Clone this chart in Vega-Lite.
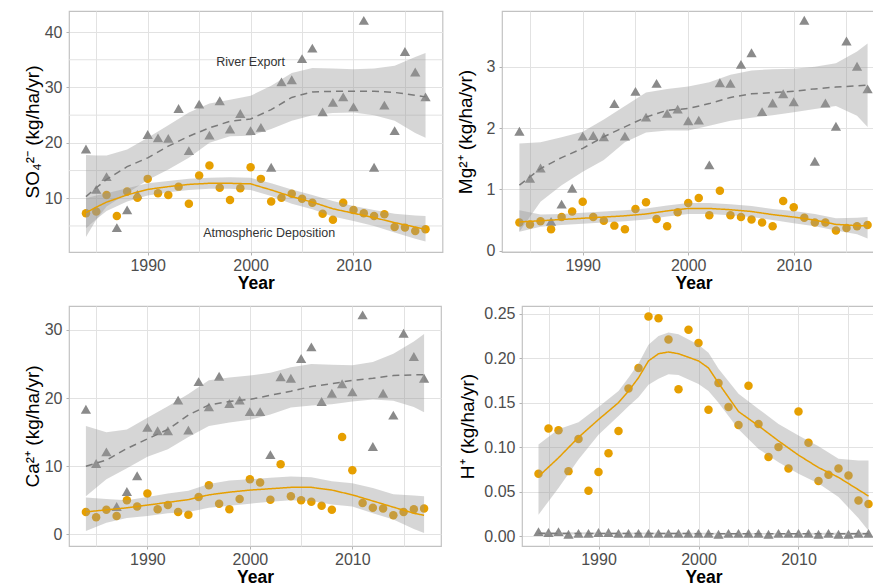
{
  "$schema": "https://vega.github.io/schema/vega-lite/v6.json",
  "autosize": {"type": "pad"},
  "padding": {"left": 22, "top": 10, "right": 0, "bottom": 0},
  "background": "white",
  "datasets": {
    "pts": [
      {"p":"SO4","year":1984,"river":18.9,"dep":7.3},{"p":"SO4","year":1985,"river":11.6,"dep":7.6},{"p":"SO4","year":1986,"river":13.9,"dep":10.6},{"p":"SO4","year":1987,"river":4.7,"dep":6.8},{"p":"SO4","year":1988,"river":7.9,"dep":11.2},{"p":"SO4","year":1989,"river":10.7,"dep":10.1},{"p":"SO4","year":1990,"river":21.5,"dep":13.5},{"p":"SO4","year":1991,"river":20.9,"dep":10.9},{"p":"SO4","year":1992,"river":20.8,"dep":10.6},{"p":"SO4","year":1993,"river":26.2,"dep":12.1},{"p":"SO4","year":1994,"river":18.6,"dep":9.0},{"p":"SO4","year":1995,"river":27.0,"dep":14.1},{"p":"SO4","year":1996,"river":21.4,"dep":15.9},{"p":"SO4","year":1997,"river":27.6,"dep":11.9},{"p":"SO4","year":1998,"river":22.5,"dep":9.7},{"p":"SO4","year":1999,"river":25.3,"dep":11.8},{"p":"SO4","year":2000,"river":22.2,"dep":15.6},{"p":"SO4","year":2001,"river":22.8,"dep":13.5},{"p":"SO4","year":2002,"river":15.6,"dep":9.4},{"p":"SO4","year":2003,"river":31.0,"dep":10.1},{"p":"SO4","year":2004,"river":31.4,"dep":10.8},{"p":"SO4","year":2005,"river":35.2,"dep":9.9},{"p":"SO4","year":2006,"river":37.1,"dep":9.2},{"p":"SO4","year":2007,"river":25.6,"dep":7.2},{"p":"SO4","year":2008,"river":27.3,"dep":6.1},{"p":"SO4","year":2009,"river":28.3,"dep":9.2},{"p":"SO4","year":2010,"river":26.5,"dep":7.9},{"p":"SO4","year":2011,"river":42.1,"dep":7.3},{"p":"SO4","year":2012,"river":15.6,"dep":6.8},{"p":"SO4","year":2013,"river":26.8,"dep":7.1},{"p":"SO4","year":2014,"river":22.2,"dep":4.8},{"p":"SO4","year":2015,"river":36.5,"dep":4.7},{"p":"SO4","year":2016,"river":32.8,"dep":4.1},{"p":"SO4","year":2017,"river":28.3,"dep":4.4},
      {"p":"Mg","year":1984,"river":1.95,"dep":0.46},{"p":"Mg","year":1985,"river":1.18,"dep":0.43},{"p":"Mg","year":1986,"river":1.35,"dep":0.48},{"p":"Mg","year":1987,"river":0.48,"dep":0.35},{"p":"Mg","year":1988,"river":0.76,"dep":0.55},{"p":"Mg","year":1989,"river":1.02,"dep":0.64},{"p":"Mg","year":1990,"river":1.87,"dep":0.80},{"p":"Mg","year":1991,"river":1.88,"dep":0.55},{"p":"Mg","year":1992,"river":1.86,"dep":0.49},{"p":"Mg","year":1993,"river":2.40,"dep":0.41},{"p":"Mg","year":1994,"river":1.87,"dep":0.35},{"p":"Mg","year":1995,"river":2.60,"dep":0.68},{"p":"Mg","year":1996,"river":2.18,"dep":0.79},{"p":"Mg","year":1997,"river":2.73,"dep":0.52},{"p":"Mg","year":1998,"river":2.24,"dep":0.40},{"p":"Mg","year":1999,"river":2.31,"dep":0.63},{"p":"Mg","year":2000,"river":2.12,"dep":0.78},{"p":"Mg","year":2001,"river":2.13,"dep":0.86},{"p":"Mg","year":2002,"river":1.40,"dep":0.58},{"p":"Mg","year":2003,"river":2.74,"dep":0.98},{"p":"Mg","year":2004,"river":2.73,"dep":0.58},{"p":"Mg","year":2005,"river":3.04,"dep":0.55},{"p":"Mg","year":2006,"river":3.23,"dep":0.51},{"p":"Mg","year":2007,"river":2.27,"dep":0.46},{"p":"Mg","year":2008,"river":2.41,"dep":0.40},{"p":"Mg","year":2009,"river":2.56,"dep":0.81},{"p":"Mg","year":2010,"river":2.43,"dep":0.71},{"p":"Mg","year":2011,"river":3.76,"dep":0.54},{"p":"Mg","year":2012,"river":1.46,"dep":0.46},{"p":"Mg","year":2013,"river":2.41,"dep":0.46},{"p":"Mg","year":2014,"river":2.03,"dep":0.33},{"p":"Mg","year":2015,"river":3.42,"dep":0.37},{"p":"Mg","year":2016,"river":3.01,"dep":0.40},{"p":"Mg","year":2017,"river":2.64,"dep":0.42},
      {"p":"Ca","year":1984,"river":18.35,"dep":3.3},{"p":"Ca","year":1985,"river":10.4,"dep":2.5},{"p":"Ca","year":1986,"river":12.1,"dep":3.6},{"p":"Ca","year":1987,"river":4.1,"dep":2.7},{"p":"Ca","year":1988,"river":6.3,"dep":5.0},{"p":"Ca","year":1989,"river":8.6,"dep":4.1},{"p":"Ca","year":1990,"river":15.7,"dep":6.0},{"p":"Ca","year":1991,"river":15.2,"dep":3.7},{"p":"Ca","year":1992,"river":15.2,"dep":4.3},{"p":"Ca","year":1993,"river":19.7,"dep":3.3},{"p":"Ca","year":1994,"river":15.3,"dep":2.9},{"p":"Ca","year":1995,"river":22.4,"dep":5.5},{"p":"Ca","year":1996,"river":18.7,"dep":7.2},{"p":"Ca","year":1997,"river":23.2,"dep":4.5},{"p":"Ca","year":1998,"river":19.2,"dep":3.7},{"p":"Ca","year":1999,"river":19.7,"dep":5.2},{"p":"Ca","year":2000,"river":18.0,"dep":8.1},{"p":"Ca","year":2001,"river":18.0,"dep":7.6},{"p":"Ca","year":2002,"river":11.7,"dep":5.1},{"p":"Ca","year":2003,"river":23.1,"dep":10.3},{"p":"Ca","year":2004,"river":22.9,"dep":5.6},{"p":"Ca","year":2005,"river":25.8,"dep":5.0},{"p":"Ca","year":2006,"river":27.5,"dep":4.8},{"p":"Ca","year":2007,"river":19.5,"dep":4.2},{"p":"Ca","year":2008,"river":20.7,"dep":3.6},{"p":"Ca","year":2009,"river":22.1,"dep":14.3},{"p":"Ca","year":2010,"river":20.9,"dep":9.4},{"p":"Ca","year":2011,"river":32.2,"dep":4.6},{"p":"Ca","year":2012,"river":12.9,"dep":3.9},{"p":"Ca","year":2013,"river":20.7,"dep":3.8},{"p":"Ca","year":2014,"river":17.5,"dep":2.8},{"p":"Ca","year":2015,"river":29.5,"dep":3.3},{"p":"Ca","year":2016,"river":26.1,"dep":3.7},{"p":"Ca","year":2017,"river":22.9,"dep":3.8},
      {"p":"H","year":1984,"river":0.005,"dep":0.070},{"p":"H","year":1985,"river":0.004,"dep":0.121},{"p":"H","year":1986,"river":0.005,"dep":0.119},{"p":"H","year":1987,"river":0.002,"dep":0.073},{"p":"H","year":1988,"river":0.003,"dep":0.109},{"p":"H","year":1989,"river":0.003,"dep":0.051},{"p":"H","year":1990,"river":0.004,"dep":0.072},{"p":"H","year":1991,"river":0.004,"dep":0.093},{"p":"H","year":1992,"river":0.003,"dep":0.118},{"p":"H","year":1993,"river":0.003,"dep":0.166},{"p":"H","year":1994,"river":0.003,"dep":0.189},{"p":"H","year":1995,"river":0.003,"dep":0.247},{"p":"H","year":1996,"river":0.003,"dep":0.245},{"p":"H","year":1997,"river":0.003,"dep":0.221},{"p":"H","year":1998,"river":0.003,"dep":0.165},{"p":"H","year":1999,"river":0.003,"dep":0.232},{"p":"H","year":2000,"river":0.003,"dep":0.217},{"p":"H","year":2001,"river":0.003,"dep":0.142},{"p":"H","year":2002,"river":0.002,"dep":0.172},{"p":"H","year":2003,"river":0.003,"dep":0.145},{"p":"H","year":2004,"river":0.003,"dep":0.125},{"p":"H","year":2005,"river":0.003,"dep":0.169},{"p":"H","year":2006,"river":0.003,"dep":0.126},{"p":"H","year":2007,"river":0.002,"dep":0.089},{"p":"H","year":2008,"river":0.003,"dep":0.100},{"p":"H","year":2009,"river":0.003,"dep":0.076},{"p":"H","year":2010,"river":0.003,"dep":0.140},{"p":"H","year":2011,"river":0.003,"dep":0.105},{"p":"H","year":2012,"river":0.002,"dep":0.062},{"p":"H","year":2013,"river":0.003,"dep":0.069},{"p":"H","year":2014,"river":0.002,"dep":0.076},{"p":"H","year":2015,"river":0.002,"dep":0.068},{"p":"H","year":2016,"river":0.003,"dep":0.040},{"p":"H","year":2017,"river":0.003,"dep":0.036}
    ],
    "fits": [
      {"p":"SO4","s":"river","year":1984,"fit":10.3,"lo":3.0,"hi":17.8},{"p":"SO4","s":"river","year":1985,"fit":11.9,"lo":6.1,"hi":17.7},{"p":"SO4","s":"river","year":1986,"fit":13.4,"lo":8.5,"hi":17.7},{"p":"SO4","s":"river","year":1988,"fit":15.7,"lo":10.9,"hi":18.8},{"p":"SO4","s":"river","year":1990,"fit":17.3,"lo":13.3,"hi":20.9},{"p":"SO4","s":"river","year":1992,"fit":19.4,"lo":15.2,"hi":23.2},{"p":"SO4","s":"river","year":1994,"fit":21.2,"lo":17.3,"hi":25.5},{"p":"SO4","s":"river","year":1996,"fit":22.7,"lo":20.0,"hi":27.1},{"p":"SO4","s":"river","year":1998,"fit":23.9,"lo":21.2,"hi":27.8},{"p":"SO4","s":"river","year":2000,"fit":24.3,"lo":21.3,"hi":28.5},{"p":"SO4","s":"river","year":2002,"fit":26.0,"lo":22.5,"hi":30.3},{"p":"SO4","s":"river","year":2004,"fit":28.2,"lo":24.0,"hi":32.6},{"p":"SO4","s":"river","year":2006,"fit":29.2,"lo":25.0,"hi":33.5},{"p":"SO4","s":"river","year":2008,"fit":29.3,"lo":25.4,"hi":33.4},{"p":"SO4","s":"river","year":2010,"fit":29.3,"lo":25.5,"hi":33.3},{"p":"SO4","s":"river","year":2012,"fit":29.3,"lo":25.0,"hi":33.4},{"p":"SO4","s":"river","year":2014,"fit":29.1,"lo":24.0,"hi":33.9},{"p":"SO4","s":"river","year":2016,"fit":28.6,"lo":21.8,"hi":35.5},{"p":"SO4","s":"river","year":2017,"fit":28.3,"lo":20.9,"hi":36.2},
      {"p":"SO4","s":"dep","year":1984,"fit":7.4,"lo":4.6,"hi":10.0},{"p":"SO4","s":"dep","year":1985,"fit":8.4,"lo":6.2,"hi":10.5},{"p":"SO4","s":"dep","year":1986,"fit":9.3,"lo":7.7,"hi":10.9},{"p":"SO4","s":"dep","year":1988,"fit":10.6,"lo":9.4,"hi":11.8},{"p":"SO4","s":"dep","year":1990,"fit":11.6,"lo":10.5,"hi":12.7},{"p":"SO4","s":"dep","year":1992,"fit":12.1,"lo":11.1,"hi":13.1},{"p":"SO4","s":"dep","year":1994,"fit":12.5,"lo":11.5,"hi":13.5},{"p":"SO4","s":"dep","year":1996,"fit":12.7,"lo":11.7,"hi":13.7},{"p":"SO4","s":"dep","year":1998,"fit":12.7,"lo":11.7,"hi":13.8},{"p":"SO4","s":"dep","year":2000,"fit":12.6,"lo":11.5,"hi":13.7},{"p":"SO4","s":"dep","year":2002,"fit":11.5,"lo":10.4,"hi":12.7},{"p":"SO4","s":"dep","year":2004,"fit":10.3,"lo":9.0,"hi":11.6},{"p":"SO4","s":"dep","year":2006,"fit":9.3,"lo":8.0,"hi":10.6},{"p":"SO4","s":"dep","year":2008,"fit":8.1,"lo":6.7,"hi":9.5},{"p":"SO4","s":"dep","year":2010,"fit":7.3,"lo":5.9,"hi":8.6},{"p":"SO4","s":"dep","year":2012,"fit":6.5,"lo":5.0,"hi":7.9},{"p":"SO4","s":"dep","year":2014,"fit":5.6,"lo":3.8,"hi":7.2},{"p":"SO4","s":"dep","year":2016,"fit":4.8,"lo":2.7,"hi":6.9},{"p":"SO4","s":"dep","year":2017,"fit":4.4,"lo":2.2,"hi":6.8},
      {"p":"Mg","s":"river","year":1984,"fit":1.07,"lo":0.31,"hi":1.75},{"p":"Mg","s":"river","year":1986,"fit":1.34,"lo":0.80,"hi":1.77},{"p":"Mg","s":"river","year":1988,"fit":1.52,"lo":1.07,"hi":1.85},{"p":"Mg","s":"river","year":1990,"fit":1.67,"lo":1.29,"hi":1.94},{"p":"Mg","s":"river","year":1992,"fit":1.86,"lo":1.48,"hi":2.14},{"p":"Mg","s":"river","year":1994,"fit":2.02,"lo":1.77,"hi":2.36},{"p":"Mg","s":"river","year":1996,"fit":2.18,"lo":1.93,"hi":2.58},{"p":"Mg","s":"river","year":1998,"fit":2.29,"lo":1.96,"hi":2.64},{"p":"Mg","s":"river","year":2000,"fit":2.32,"lo":1.96,"hi":2.68},{"p":"Mg","s":"river","year":2002,"fit":2.40,"lo":2.04,"hi":2.75},{"p":"Mg","s":"river","year":2004,"fit":2.50,"lo":2.12,"hi":2.87},{"p":"Mg","s":"river","year":2006,"fit":2.56,"lo":2.17,"hi":2.94},{"p":"Mg","s":"river","year":2008,"fit":2.58,"lo":2.21,"hi":2.96},{"p":"Mg","s":"river","year":2010,"fit":2.60,"lo":2.26,"hi":2.97},{"p":"Mg","s":"river","year":2012,"fit":2.64,"lo":2.31,"hi":3.00},{"p":"Mg","s":"river","year":2014,"fit":2.67,"lo":2.36,"hi":3.06},{"p":"Mg","s":"river","year":2016,"fit":2.69,"lo":2.20,"hi":3.25},{"p":"Mg","s":"river","year":2017,"fit":2.70,"lo":2.02,"hi":3.38},
      {"p":"Mg","s":"dep","year":1984,"fit":0.47,"lo":0.31,"hi":0.66},{"p":"Mg","s":"dep","year":1986,"fit":0.49,"lo":0.39,"hi":0.59},{"p":"Mg","s":"dep","year":1988,"fit":0.51,"lo":0.42,"hi":0.60},{"p":"Mg","s":"dep","year":1990,"fit":0.53,"lo":0.44,"hi":0.62},{"p":"Mg","s":"dep","year":1992,"fit":0.55,"lo":0.46,"hi":0.64},{"p":"Mg","s":"dep","year":1994,"fit":0.57,"lo":0.48,"hi":0.66},{"p":"Mg","s":"dep","year":1996,"fit":0.60,"lo":0.51,"hi":0.69},{"p":"Mg","s":"dep","year":1998,"fit":0.65,"lo":0.56,"hi":0.74},{"p":"Mg","s":"dep","year":2000,"fit":0.69,"lo":0.60,"hi":0.78},{"p":"Mg","s":"dep","year":2002,"fit":0.69,"lo":0.60,"hi":0.78},{"p":"Mg","s":"dep","year":2004,"fit":0.67,"lo":0.58,"hi":0.76},{"p":"Mg","s":"dep","year":2006,"fit":0.64,"lo":0.55,"hi":0.73},{"p":"Mg","s":"dep","year":2008,"fit":0.59,"lo":0.50,"hi":0.68},{"p":"Mg","s":"dep","year":2010,"fit":0.55,"lo":0.45,"hi":0.65},{"p":"Mg","s":"dep","year":2012,"fit":0.50,"lo":0.40,"hi":0.60},{"p":"Mg","s":"dep","year":2014,"fit":0.43,"lo":0.33,"hi":0.53},{"p":"Mg","s":"dep","year":2016,"fit":0.41,"lo":0.27,"hi":0.54},{"p":"Mg","s":"dep","year":2017,"fit":0.41,"lo":0.20,"hi":0.55},
      {"p":"Ca","s":"river","year":1984,"fit":10.0,"lo":5.6,"hi":15.9},{"p":"Ca","s":"river","year":1986,"fit":10.9,"lo":8.1,"hi":15.0},{"p":"Ca","s":"river","year":1988,"fit":12.6,"lo":9.7,"hi":15.4},{"p":"Ca","s":"river","year":1990,"fit":14.0,"lo":11.4,"hi":17.1},{"p":"Ca","s":"river","year":1992,"fit":15.4,"lo":12.5,"hi":18.8},{"p":"Ca","s":"river","year":1994,"fit":17.5,"lo":14.3,"hi":20.6},{"p":"Ca","s":"river","year":1996,"fit":19.0,"lo":15.9,"hi":22.6},{"p":"Ca","s":"river","year":1998,"fit":19.5,"lo":16.4,"hi":23.0},{"p":"Ca","s":"river","year":2000,"fit":19.8,"lo":16.8,"hi":23.3},{"p":"Ca","s":"river","year":2002,"fit":20.4,"lo":17.6,"hi":23.7},{"p":"Ca","s":"river","year":2004,"fit":21.0,"lo":18.6,"hi":24.5},{"p":"Ca","s":"river","year":2006,"fit":21.7,"lo":18.9,"hi":25.0},{"p":"Ca","s":"river","year":2008,"fit":22.1,"lo":19.1,"hi":24.9},{"p":"Ca","s":"river","year":2010,"fit":22.6,"lo":19.5,"hi":24.8},{"p":"Ca","s":"river","year":2012,"fit":22.9,"lo":19.8,"hi":25.3},{"p":"Ca","s":"river","year":2014,"fit":23.3,"lo":19.6,"hi":26.5},{"p":"Ca","s":"river","year":2016,"fit":23.4,"lo":18.7,"hi":28.3},{"p":"Ca","s":"river","year":2017,"fit":23.4,"lo":17.9,"hi":29.4},
      {"p":"Ca","s":"dep","year":1984,"fit":3.3,"lo":0.5,"hi":5.4},{"p":"Ca","s":"dep","year":1986,"fit":3.6,"lo":1.7,"hi":5.2},{"p":"Ca","s":"dep","year":1988,"fit":3.9,"lo":2.4,"hi":5.0},{"p":"Ca","s":"dep","year":1990,"fit":4.3,"lo":2.7,"hi":5.5},{"p":"Ca","s":"dep","year":1992,"fit":4.7,"lo":3.1,"hi":6.0},{"p":"Ca","s":"dep","year":1994,"fit":5.1,"lo":3.3,"hi":6.4},{"p":"Ca","s":"dep","year":1996,"fit":5.8,"lo":3.9,"hi":7.4},{"p":"Ca","s":"dep","year":1998,"fit":6.2,"lo":4.2,"hi":7.9},{"p":"Ca","s":"dep","year":2000,"fit":6.5,"lo":4.5,"hi":8.1},{"p":"Ca","s":"dep","year":2002,"fit":6.7,"lo":4.8,"hi":8.3},{"p":"Ca","s":"dep","year":2004,"fit":6.9,"lo":5.0,"hi":8.5},{"p":"Ca","s":"dep","year":2006,"fit":6.9,"lo":4.9,"hi":8.4},{"p":"Ca","s":"dep","year":2008,"fit":6.5,"lo":4.4,"hi":7.8},{"p":"Ca","s":"dep","year":2010,"fit":5.8,"lo":4.1,"hi":7.5},{"p":"Ca","s":"dep","year":2012,"fit":4.9,"lo":3.1,"hi":6.8},{"p":"Ca","s":"dep","year":2014,"fit":4.0,"lo":2.2,"hi":5.9},{"p":"Ca","s":"dep","year":2016,"fit":3.1,"lo":0.8,"hi":5.7},{"p":"Ca","s":"dep","year":2017,"fit":2.8,"lo":0.2,"hi":5.6},
      {"p":"H","s":"river","year":1984,"fit":0.0030,"lo":0.0015,"hi":0.0045},{"p":"H","s":"river","year":1990,"fit":0.0029,"lo":0.0019,"hi":0.0039},{"p":"H","s":"river","year":2000,"fit":0.0027,"lo":0.0018,"hi":0.0036},{"p":"H","s":"river","year":2010,"fit":0.0026,"lo":0.0017,"hi":0.0035},{"p":"H","s":"river","year":2017,"fit":0.0025,"lo":0.0010,"hi":0.0040},
      {"p":"H","s":"dep","year":1984,"fit":0.067,"lo":0.024,"hi":0.103},{"p":"H","s":"dep","year":1986,"fit":0.088,"lo":0.054,"hi":0.120},{"p":"H","s":"dep","year":1988,"fit":0.111,"lo":0.086,"hi":0.128},{"p":"H","s":"dep","year":1990,"fit":0.131,"lo":0.114,"hi":0.145},{"p":"H","s":"dep","year":1992,"fit":0.150,"lo":0.135,"hi":0.163},{"p":"H","s":"dep","year":1993,"fit":0.163,"lo":0.146,"hi":0.178},{"p":"H","s":"dep","year":1994,"fit":0.178,"lo":0.156,"hi":0.194},{"p":"H","s":"dep","year":1995,"fit":0.197,"lo":0.170,"hi":0.215},{"p":"H","s":"dep","year":1996,"fit":0.205,"lo":0.177,"hi":0.225},{"p":"H","s":"dep","year":1997,"fit":0.207,"lo":0.182,"hi":0.229},{"p":"H","s":"dep","year":1998,"fit":0.205,"lo":0.181,"hi":0.227},{"p":"H","s":"dep","year":2000,"fit":0.197,"lo":0.171,"hi":0.215},{"p":"H","s":"dep","year":2001,"fit":0.189,"lo":0.163,"hi":0.206},{"p":"H","s":"dep","year":2002,"fit":0.172,"lo":0.150,"hi":0.188},{"p":"H","s":"dep","year":2004,"fit":0.140,"lo":0.120,"hi":0.160},{"p":"H","s":"dep","year":2006,"fit":0.124,"lo":0.098,"hi":0.143},{"p":"H","s":"dep","year":2008,"fit":0.107,"lo":0.083,"hi":0.126},{"p":"H","s":"dep","year":2010,"fit":0.091,"lo":0.070,"hi":0.113},{"p":"H","s":"dep","year":2012,"fit":0.077,"lo":0.059,"hi":0.101},{"p":"H","s":"dep","year":2014,"fit":0.066,"lo":0.044,"hi":0.087},{"p":"H","s":"dep","year":2016,"fit":0.052,"lo":0.020,"hi":0.085},{"p":"H","s":"dep","year":2017,"fit":0.045,"lo":0.006,"hi":0.085}
    ],
    "notes": [
      {"p":"SO4","year":2000,"v":34.6,"txt":"River Export"},
      {"p":"SO4","year":2001.8,"v":3.8,"txt":"Atmospheric Deposition"}
    ],
    "minor": [
      {"p":"SO4","v":5},{"p":"SO4","v":15},{"p":"SO4","v":25},{"p":"SO4","v":35}
    ]
  },
  "spacing": 12,
  "bounds": "full",
  "vconcat": [
    {
      "spacing": 59,
      "bounds": "flush",
      "hconcat": [
        {
          "width": 373.5,
          "height": 241,
          "layer": [
            {"data": {"name": "minor"}, "mark": {"type": "rule", "color": "#e2e2e2", "strokeWidth": 1},
             "encoding": {"y": {"field": "v", "type": "quantitative", "scale": {"domain": [0.3, 43.8], "nice": false, "zero": false}, "axis": {"title": "SO₄²⁻ (kg/ha/yr)", "values": [10, 20, 30, 40], "format": "d"}}}},
            {"data": {"name": "pts"}, "transform": [{"filter": "datum.p === 'SO4'"}], "mark": {"type": "point", "shape": "triangle-up", "filled": true, "size": 105, "color": "#8a8a8a", "opacity": 1},
             "encoding": {"x": {"field": "year", "type": "quantitative", "scale": {"domain": [1982.35, 2018.65], "nice": false, "zero": false}, "axis": {"title": "Year", "values": [1985, 1990, 1995, 2000, 2005, 2010, 2015], "format": "d", "labelExpr": "datum.value % 10 === 0 ? datum.label : ''", "tickOpacity": {"condition": {"test": "datum.value % 10 === 0", "value": 1}, "value": 0}}},
               "y": {"field": "river", "type": "quantitative", "scale": {"domain": [0.3, 43.8], "nice": false, "zero": false}, "axis": {"title": "SO₄²⁻ (kg/ha/yr)", "values": [10, 20, 30, 40], "format": "d"}}}},
            {"data": {"name": "pts"}, "transform": [{"filter": "datum.p === 'SO4'"}], "mark": {"type": "circle", "size": 72, "color": "#E69F00", "opacity": 1},
             "encoding": {"x": {"field": "year", "type": "quantitative", "scale": {"domain": [1982.35, 2018.65], "nice": false, "zero": false}},
               "y": {"field": "dep", "type": "quantitative", "scale": {"domain": [0.3, 43.8], "nice": false, "zero": false}}}},
            {"data": {"name": "fits"}, "transform": [{"filter": "datum.p === 'SO4'"}], "mark": {"type": "area", "color": "#999999", "opacity": 0.4},
             "encoding": {"x": {"field": "year", "type": "quantitative", "scale": {"domain": [1982.35, 2018.65], "nice": false, "zero": false}},
               "y": {"field": "lo", "type": "quantitative", "stack": null, "scale": {"domain": [0.3, 43.8], "nice": false, "zero": false}}, "y2": {"field": "hi"}, "detail": {"field": "s"}}},
            {"data": {"name": "fits"}, "transform": [{"filter": "datum.p === 'SO4'"}], "mark": {"type": "line", "strokeWidth": 1.5},
             "encoding": {"x": {"field": "year", "type": "quantitative", "scale": {"domain": [1982.35, 2018.65], "nice": false, "zero": false}},
               "y": {"field": "fit", "type": "quantitative", "scale": {"domain": [0.3, 43.8], "nice": false, "zero": false}},
               "color": {"field": "s", "type": "nominal", "scale": {"domain": ["river", "dep"], "range": ["#7a7a7a", "#E69F00"]}, "legend": null},
               "strokeDash": {"field": "s", "type": "nominal", "scale": {"domain": ["river", "dep"], "range": [[7, 5], [1, 0]]}, "legend": null}}},
            {"data": {"name": "notes"}, "mark": {"type": "text", "font": "Liberation Sans", "fontSize": 12.5, "color": "#333333"},
             "encoding": {"x": {"field": "year", "type": "quantitative", "scale": {"domain": [1982.35, 2018.65], "nice": false, "zero": false}},
               "y": {"field": "v", "type": "quantitative", "scale": {"domain": [0.3, 43.8], "nice": false, "zero": false}}, "text": {"field": "txt", "type": "nominal"}}}
          ]
        },
        {
          "width": 383,
          "height": 241,
          "encoding": {"x": {"field": "year", "type": "quantitative", "scale": {"domain": [1982.35, 2018.65], "nice": false, "zero": false}, "axis": {"title": "Year", "values": [1985, 1990, 1995, 2000, 2005, 2010, 2015], "format": "d", "labelExpr": "datum.value % 10 === 0 ? datum.label : ''", "tickOpacity": {"condition": {"test": "datum.value % 10 === 0", "value": 1}, "value": 0}}}},
          "layer": [
            {"data": {"name": "pts"}, "transform": [{"filter": "datum.p === 'Mg'"}], "mark": {"type": "point", "shape": "triangle-up", "filled": true, "size": 105, "color": "#8a8a8a", "opacity": 1},
             "encoding": {"y": {"field": "river", "type": "quantitative", "scale": {"domain": [-0.02, 3.91], "nice": false, "zero": false}, "axis": {"title": "Mg²⁺ (kg/ha/yr)", "titlePadding": 11, "values": [0, 0.5, 1, 1.5, 2, 2.5, 3, 3.5], "format": ".0f", "labelExpr": "datum.value % 1 === 0 ? datum.label : ''", "tickOpacity": {"condition": {"test": "datum.value % 1 === 0", "value": 1}, "value": 0}}}}},
            {"data": {"name": "pts"}, "transform": [{"filter": "datum.p === 'Mg'"}], "mark": {"type": "circle", "size": 72, "color": "#E69F00", "opacity": 1},
             "encoding": {"y": {"field": "dep", "type": "quantitative", "scale": {"domain": [-0.02, 3.91], "nice": false, "zero": false}}}},
            {"data": {"name": "fits"}, "transform": [{"filter": "datum.p === 'Mg'"}], "mark": {"type": "area", "color": "#999999", "opacity": 0.4},
             "encoding": {"y": {"field": "lo", "type": "quantitative", "stack": null, "scale": {"domain": [-0.02, 3.91], "nice": false, "zero": false}}, "y2": {"field": "hi"}, "detail": {"field": "s"}}},
            {"data": {"name": "fits"}, "transform": [{"filter": "datum.p === 'Mg'"}], "mark": {"type": "line", "strokeWidth": 1.5},
             "encoding": {"y": {"field": "fit", "type": "quantitative", "scale": {"domain": [-0.02, 3.91], "nice": false, "zero": false}},
               "color": {"field": "s", "type": "nominal", "scale": {"domain": ["river", "dep"], "range": ["#7a7a7a", "#E69F00"]}, "legend": null},
               "strokeDash": {"field": "s", "type": "nominal", "scale": {"domain": ["river", "dep"], "range": [[7, 5], [1, 0]]}, "legend": null}}}
          ]
        }
      ]
    },
    {
      "spacing": 81,
      "bounds": "flush",
      "hconcat": [
        {
          "width": 372,
          "height": 240,
          "encoding": {"x": {"field": "year", "type": "quantitative", "scale": {"domain": [1982.35, 2018.65], "nice": false, "zero": false}, "axis": {"title": "Year", "values": [1985, 1990, 1995, 2000, 2005, 2010, 2015], "format": "d", "labelExpr": "datum.value % 10 === 0 ? datum.label : ''", "tickOpacity": {"condition": {"test": "datum.value % 10 === 0", "value": 1}, "value": 0}}}},
          "layer": [
            {"data": {"name": "pts"}, "transform": [{"filter": "datum.p === 'Ca'"}], "mark": {"type": "point", "shape": "triangle-up", "filled": true, "size": 105, "color": "#8a8a8a", "opacity": 1},
             "encoding": {"y": {"field": "river", "type": "quantitative", "scale": {"domain": [-1.7, 33.5], "nice": false, "zero": false}, "axis": {"title": "Ca²⁺ (kg/ha/yr)", "values": [0, 5, 10, 15, 20, 25, 30], "format": "d", "labelExpr": "datum.value % 10 === 0 ? datum.label : ''", "tickOpacity": {"condition": {"test": "datum.value % 10 === 0", "value": 1}, "value": 0}}}}},
            {"data": {"name": "pts"}, "transform": [{"filter": "datum.p === 'Ca'"}], "mark": {"type": "circle", "size": 72, "color": "#E69F00", "opacity": 1},
             "encoding": {"y": {"field": "dep", "type": "quantitative", "scale": {"domain": [-1.7, 33.5], "nice": false, "zero": false}}}},
            {"data": {"name": "fits"}, "transform": [{"filter": "datum.p === 'Ca'"}], "mark": {"type": "area", "color": "#999999", "opacity": 0.4},
             "encoding": {"y": {"field": "lo", "type": "quantitative", "stack": null, "scale": {"domain": [-1.7, 33.5], "nice": false, "zero": false}}, "y2": {"field": "hi"}, "detail": {"field": "s"}}},
            {"data": {"name": "fits"}, "transform": [{"filter": "datum.p === 'Ca'"}], "mark": {"type": "line", "strokeWidth": 1.5},
             "encoding": {"y": {"field": "fit", "type": "quantitative", "scale": {"domain": [-1.7, 33.5], "nice": false, "zero": false}},
               "color": {"field": "s", "type": "nominal", "scale": {"domain": ["river", "dep"], "range": ["#7a7a7a", "#E69F00"]}, "legend": null},
               "strokeDash": {"field": "s", "type": "nominal", "scale": {"domain": ["river", "dep"], "range": [[7, 5], [1, 0]]}, "legend": null}}}
          ]
        },
        {
          "width": 363,
          "height": 240,
          "encoding": {"x": {"field": "year", "type": "quantitative", "scale": {"domain": [1982.35, 2018.65], "nice": false, "zero": false}, "axis": {"title": "Year", "values": [1985, 1990, 1995, 2000, 2005, 2010, 2015], "format": "d", "labelExpr": "datum.value % 10 === 0 ? datum.label : ''", "tickOpacity": {"condition": {"test": "datum.value % 10 === 0", "value": 1}, "value": 0}}}},
          "layer": [
            {"data": {"name": "pts"}, "transform": [{"filter": "datum.p === 'H'"}], "mark": {"type": "circle", "size": 72, "color": "#E69F00", "opacity": 1},
             "encoding": {"y": {"field": "dep", "type": "quantitative", "scale": {"domain": [-0.0112, 0.2587], "nice": false, "zero": false}, "axis": {"title": "H⁺ (kg/ha/yr)", "titlePadding": 6, "values": [0, 0.025, 0.05, 0.075, 0.1, 0.125, 0.15, 0.175, 0.2, 0.225, 0.25], "format": ".2f", "labelExpr": "round(datum.value * 1000) % 50 === 0 ? datum.label : ''", "tickOpacity": {"condition": {"test": "round(datum.value * 1000) % 50 === 0", "value": 1}, "value": 0}}}}},
            {"data": {"name": "pts"}, "transform": [{"filter": "datum.p === 'H'"}], "mark": {"type": "point", "shape": "triangle-up", "filled": true, "size": 105, "color": "#8a8a8a", "opacity": 1},
             "encoding": {"y": {"field": "river", "type": "quantitative", "scale": {"domain": [-0.0112, 0.2587], "nice": false, "zero": false}}}},
            {"data": {"name": "fits"}, "transform": [{"filter": "datum.p === 'H'"}], "mark": {"type": "area", "color": "#999999", "opacity": 0.4},
             "encoding": {"y": {"field": "lo", "type": "quantitative", "stack": null, "scale": {"domain": [-0.0112, 0.2587], "nice": false, "zero": false}}, "y2": {"field": "hi"}, "detail": {"field": "s"}}},
            {"data": {"name": "fits"}, "transform": [{"filter": "datum.p === 'H'"}], "mark": {"type": "line", "strokeWidth": 1.5},
             "encoding": {"y": {"field": "fit", "type": "quantitative", "scale": {"domain": [-0.0112, 0.2587], "nice": false, "zero": false}},
               "color": {"field": "s", "type": "nominal", "scale": {"domain": ["river", "dep"], "range": ["#7a7a7a", "#E69F00"]}, "legend": null},
               "strokeDash": {"field": "s", "type": "nominal", "scale": {"domain": ["river", "dep"], "range": [[7, 5], [1, 0]]}, "legend": null}}}
          ]
        }
      ]
    }
  ],
  "config": {
    "font": "Liberation Sans",
    "view": {"stroke": "#c2c2c2", "strokeWidth": 1.2},
    "axis": {"grid": true, "gridColor": "#e2e2e2", "gridWidth": 1, "domain": false, "ticks": true, "tickColor": "#b3b3b3", "tickSize": 3,
      "labelFont": "Liberation Sans", "labelFontSize": 16, "labelColor": "#4d4d4d", "labelPadding": 2,
      "titleFont": "Liberation Sans", "titleColor": "#000000"},
    "axisX": {"titleFontSize": 17.5, "titleFontWeight": "bold", "titlePadding": 1},
    "axisY": {"titleFontSize": 19, "titleFontWeight": "normal", "labelPadding": 4, "titlePadding": 2}
  }
}
